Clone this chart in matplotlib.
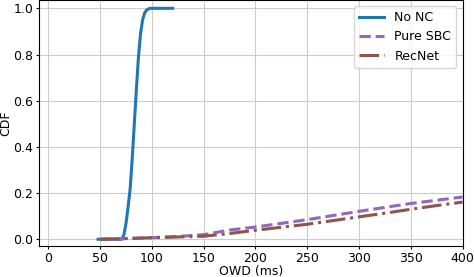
import numpy as np
import matplotlib
matplotlib.use("Agg")
import matplotlib.pyplot as plt

# No NC: steep CDF around 75-100 ms
nonc_x = [48, 71, 73, 75, 77, 79, 81, 83, 85, 87, 89, 91, 93, 95, 98, 100, 110, 120]
nonc_y = [0.0, 0.0, 0.02, 0.07, 0.14, 0.22, 0.35, 0.50, 0.65, 0.79, 0.89, 0.95, 0.98, 0.993, 1.0, 1.0, 1.0, 1.0]

sbc_x = [50, 75, 100, 125, 150, 160, 175, 200, 225, 250, 275, 300, 325, 350, 375, 400]
sbc_y = [0.0, 0.003, 0.007, 0.012, 0.02, 0.028, 0.040, 0.053, 0.069, 0.085, 0.103, 0.121, 0.138, 0.155, 0.169, 0.183]

rec_x = [50, 75, 100, 125, 150, 175, 200, 225, 250, 275, 300, 325, 350, 375, 400]
rec_y = [0.0, 0.003, 0.007, 0.010, 0.013, 0.025, 0.039, 0.052, 0.065, 0.081, 0.097, 0.113, 0.130, 0.146, 0.161]

plt.rcParams['font.size'] = 9
fig, ax = plt.subplots(figsize=(4.74, 2.77), dpi=100)
fig.subplots_adjust(left=0.083, right=0.976, bottom=0.112, top=1.0)

ax.plot(nonc_x, nonc_y, color='#1f77b4', lw=2.2, label='No NC')
ax.plot(sbc_x, sbc_y, color='#9467bd', lw=2.2, ls='--', label='Pure SBC')
ax.plot(rec_x, rec_y, color='#8c564b', lw=2.2, ls='-.', label='RecNet')

ax.set_xlim(-8.7, 400)
ax.set_ylim(-0.029, 1.036)
ax.set_xticks(np.arange(0, 401, 50))
ax.set_yticks([0.0, 0.2, 0.4, 0.6, 0.8, 1.0])
ax.tick_params(length=2, pad=2.5)
ax.grid(True, color='#cccccc', lw=0.8)
ax.set_xlabel('OWD (ms)', labelpad=0)
ax.set_ylabel('CDF', labelpad=0.5)
ax.legend(loc='upper right')

fig.savefig('out.png', dpi=100)
